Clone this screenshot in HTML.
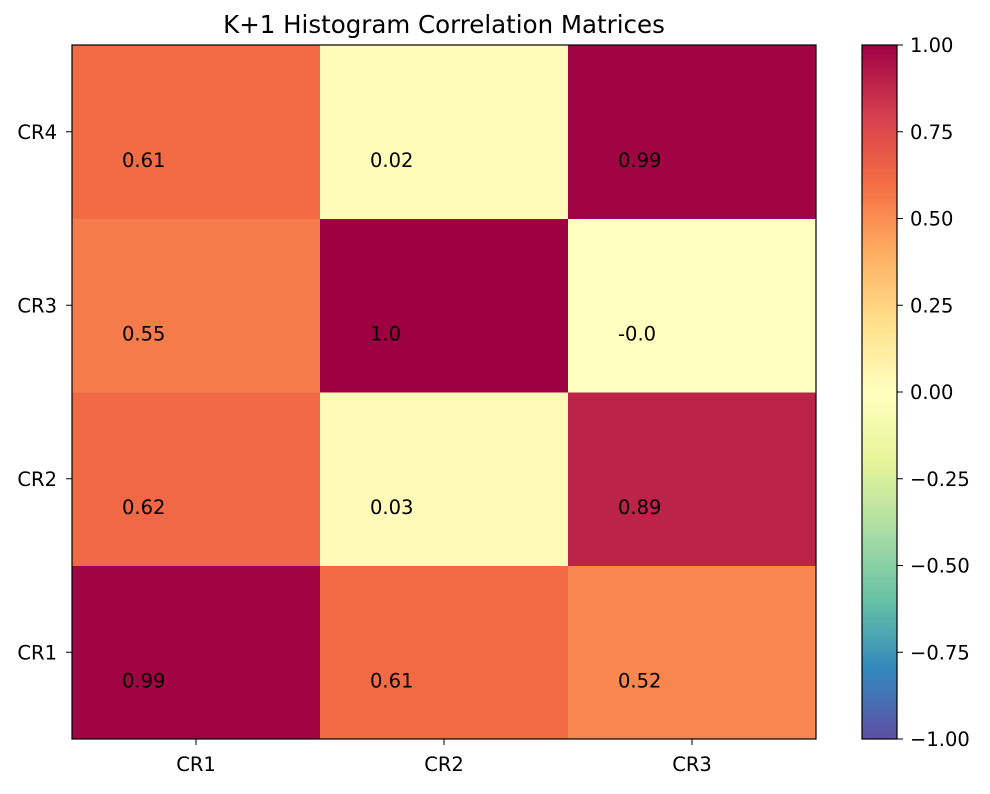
<!DOCTYPE html>
<html><head><meta charset="utf-8"><style>
body{margin:0;background:#fff;}
svg text{font-family:"DejaVu Sans","Liberation Sans",sans-serif;fill:#000;}
</style></head><body>
<svg id="chart" width="990" height="789" xmlns="http://www.w3.org/2000/svg">
<defs><linearGradient id="cbgrad" x1="0" y1="1" x2="0" y2="0"></linearGradient></defs>
<text x="444" y="33" font-size="24.5" text-anchor="middle">K+1 Histogram Correlation Matrices</text>
<g id="cells"></g><g id="axes"></g><g id="cbar"></g>
</svg>
<script>
const xCategories = ["CR1","CR2","CR3"];
const yCategories = ["CR1","CR2","CR3","CR4"];
// values[rowIndex][colIndex], row 0 = CR1 (bottom)
const rowCR1 = [0.99, 0.61, 0.52];
const rowCR2 = [0.62, 0.03, 0.89];
const rowCR3 = [0.55, 1.0, -0.0];
const rowCR4 = [0.61, 0.02, 0.99];
const labelsCR1 = ["0.99","0.61","0.52"];
const labelsCR2 = ["0.62","0.03","0.89"];
const labelsCR3 = ["0.55","1.0","-0.0"];
const labelsCR4 = ["0.61","0.02","0.99"];
const cbTicks = [1.0,0.75,0.5,0.25,0,-0.25,-0.5,-0.75,-1.0];
const cbTickLabels = ["1.00","0.75","0.50","0.25","0.00","\u22120.25","\u22120.50","\u22120.75","\u22121.00"];
const values=[rowCR1,rowCR2,rowCR3,rowCR4];
const labels=[labelsCR1,labelsCR2,labelsCR3,labelsCR4];

const NS="http://www.w3.org/2000/svg";
const L=72,R=816,T=45,B=739;
const FS=19.5;
const cw=(R-L)/xCategories.length, rh=(B-T)/yCategories.length;
const xPos=i=>L+i*cw, yPos=j=>B-(j+1)*rh;
const stops=["#9e0142","#d53e4f","#f46d43","#fdae61","#fee08b","#ffffbf","#e6f598","#abdda4","#66c2a5","#3288bd","#5e4fa2"];
function hex(h){return [1,3,5].map(k=>parseInt(h.substr(k,2),16));}
function color(v){let t=(1-v)/2;t=Math.max(0,Math.min(1,t))*10;let i=Math.min(9,Math.floor(t)),f=t-i;
 const a=hex(stops[i]),b=hex(stops[i+1]);return "rgb("+a.map((c,k)=>Math.round(c+(b[k]-c)*f)).join(",")+")";}
function mk(tag,attrs,parent){const e=document.createElementNS(NS,tag);for(const k in attrs)e.setAttribute(k,attrs[k]);parent.appendChild(e);return e;}
const cells=document.getElementById('cells'),axes=document.getElementById('axes'),cb=document.getElementById('cbar');
values.forEach((row,j)=>row.forEach((v,i)=>{
 const r=mk('rect',{x:xPos(i),y:yPos(j),width:cw+0.5,height:rh+0.5,fill:color(v)},cells);
 
 
 const t=mk('text',{x:xPos(i)+50,y:yPos(j)+rh/2+35,'font-size':FS},cells);
 t.textContent=labels[j][i];
 
 
}));
const fr=mk('rect',{x:L,y:T,width:R-L,height:B-T,fill:'none',stroke:'#000','stroke-width':1.2},axes);


xCategories.forEach((c,i)=>{const x=xPos(i)+cw/2;
 mk('line',{x1:x,x2:x,y1:B,y2:B+6,stroke:'#000'},axes);
 const t=mk('text',{x:x,y:B+32,'font-size':FS,'text-anchor':'middle'},axes);t.textContent=c;
 
 });
yCategories.forEach((c,j)=>{const y=yPos(j)+rh/2;
 mk('line',{x1:L-6,x2:L,y1:y,y2:y,stroke:'#000'},axes);
 const t=mk('text',{x:L-15,y:y+7,'font-size':FS,'text-anchor':'end'},axes);t.textContent=c;
 
 });
// colorbar
const g=document.getElementById('cbgrad');
for(let k=0;k<=20;k++){const v=-1+k/10;mk('stop',{offset:(k/20),'stop-color':color(v)},g);}
const CL=862,CR=897;
const cbY=v=>B-(v+1)/2*(B-T);
const cr=mk('rect',{x:CL,y:T,width:CR-CL,height:B-T,fill:'url(#cbgrad)',stroke:'#000','stroke-width':1.2},cb);


cbTicks.forEach((v,k)=>{const y=cbY(v);
 mk('line',{x1:CR,x2:CR+6,y1:y,y2:y,stroke:'#000'},cb);
 const t=mk('text',{x:CR+13,y:y+7,'font-size':FS},cb);t.textContent=cbTickLabels[k];
 
 });
</script>
</body></html>
